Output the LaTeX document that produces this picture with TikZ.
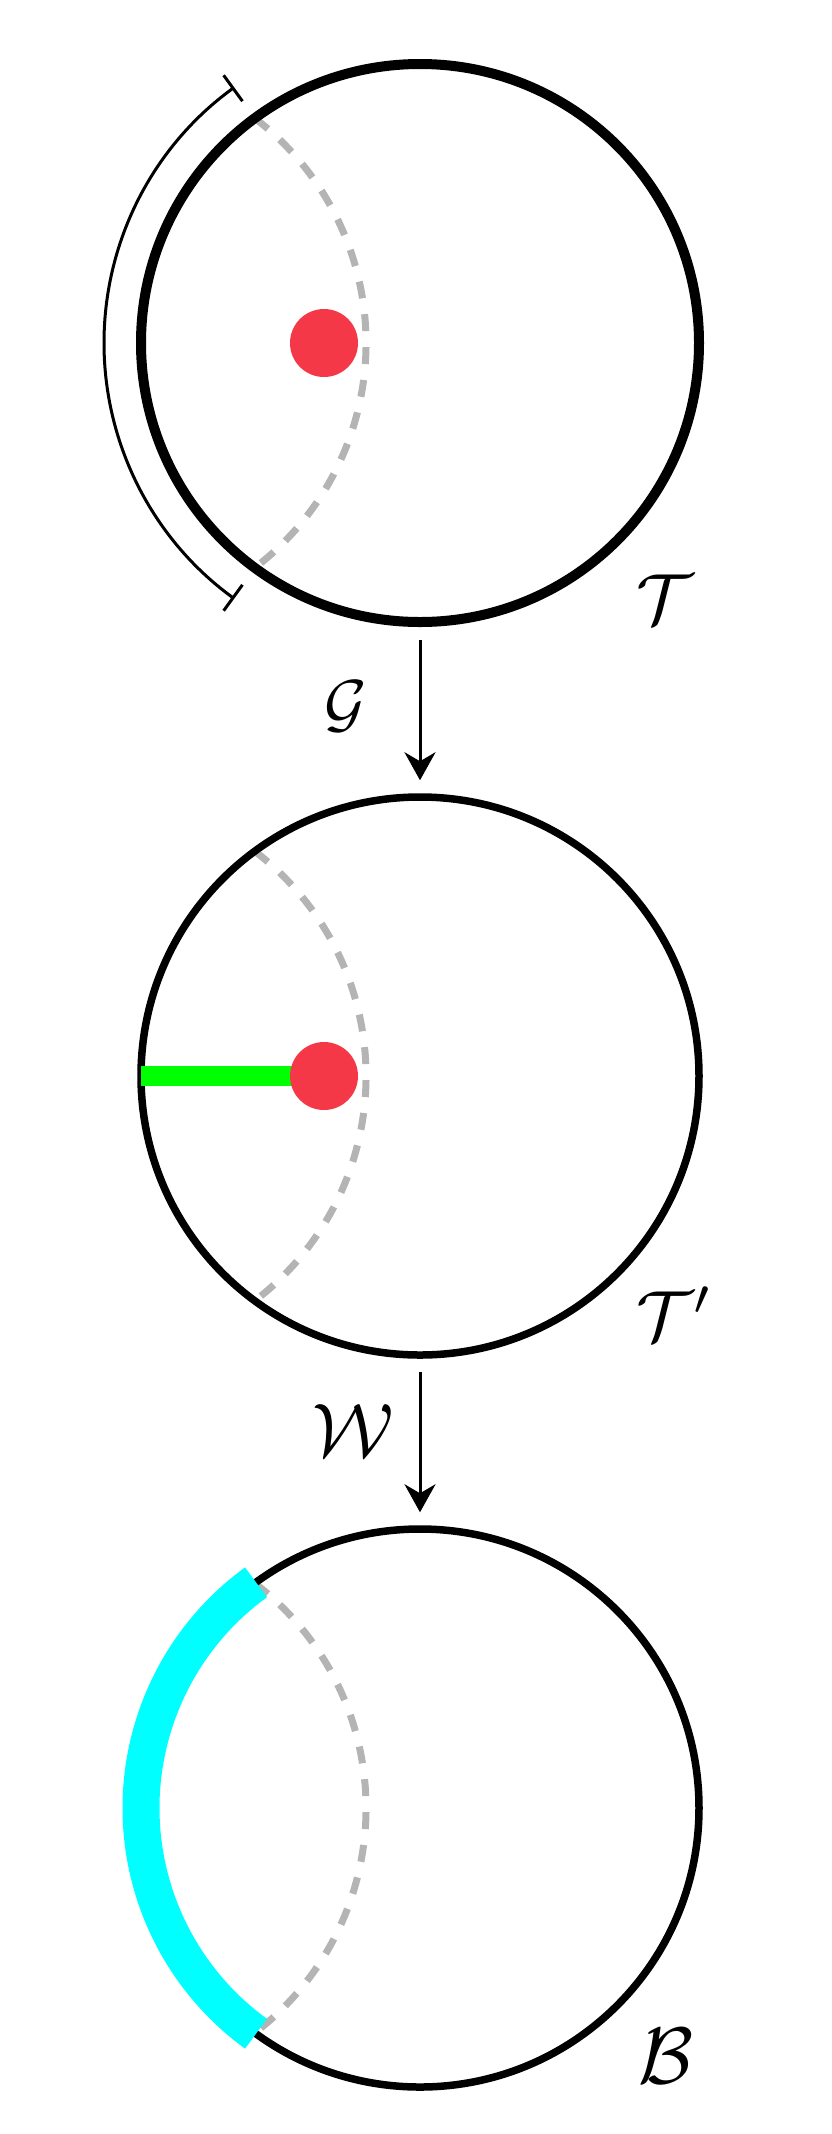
\documentclass[tikz,border=0pt]{standalone}
\usetikzlibrary{arrows.meta}
\definecolor{dotred}{RGB}{244,56,72}
\definecolor{dashgray}{RGB}{180,180,180}
\definecolor{cyanband}{RGB}{0,255,255}
\definecolor{greenbar}{RGB}{0,255,0}
\tikzset{
  bigcircle/.style={circle, draw=black, minimum size=558pt, inner sep=0pt},
  geod/.style={draw=dashgray, line width=7pt, dash pattern=on 17pt off 16pt},
  reddot/.style={circle, fill=dotred, minimum size=68pt, inner sep=0pt},
  mapping/.style={draw=black, line width=3pt, -{Stealth[length=28pt, width=31pt, inset=9pt]}, shorten <=13pt, shorten >=13pt},
  lbl/.style={inner sep=0pt, outer sep=0pt, anchor=base west}
}
\begin{document}
\begin{tikzpicture}[x=1pt, y=-1pt]
\useasboundingbox (0,0) rectangle (831,2134);
\coordinate (c1) at (420,343);
\coordinate (c2) at (420,1076);
\coordinate (c3) at (420,1808);
% dashed arcs
\foreach \c in {c1,c2,c3}{
  \draw[geod] ([shift={(-165.3pt,224.8pt)}]\c) arc[start angle=52.7, end angle=-52.7, radius=282.6pt];
}
% circles
\node[bigcircle, line width=10pt] (t1) at (c1) {};
\node[bigcircle, line width=7.5pt] (t2) at (c2) {};
\node[bigcircle, line width=7.5pt] (t3) at (c3) {};
% bracket
\draw[line width=3pt, {Bar[width=32pt]}-{Bar[width=32pt]}] ([shift={(126:316pt)}]c1) arc[start angle=126, end angle=234, radius=316pt];
% red dot 1
\node[reddot] (d1) at ([xshift=-96pt]c1) {};
% green bar and red dot 2
\coordinate (p2) at ([xshift=-96pt]c2);
\coordinate (g2) at ([xshift=-279pt]c2);
\draw[greenbar, line width=20pt] (g2) -- (p2);
\node[reddot] (d2) at (p2) {};
% cyan band
\draw[cyanband, line width=37pt] ([shift={(126:279pt)}]c3) arc[start angle=126, end angle=234, radius=279pt];
% arrows
\draw[mapping] (t1.south) -- (t2.north);
\draw[mapping] (t2.south) -- (t3.north);
% labels
\node[lbl] (lT) at (636.3,623.6) {\scalebox{7.1}{$\mathcal{T}$}};
\node[lbl] (lTp) at (636.5,1340.6) {\scalebox{7.1}{$\mathcal{T}'$}};
\node[lbl] (lG) at (324.8,725.4) {\scalebox{6.5}{$\mathcal{G}$}};
\node[lbl] (lW) at (312.5,1456.2) {\scalebox{7.6}{$\mathcal{W}$}};
\node[lbl] (lB) at (638,2083.5) {\scalebox{8}{$\mathcal{B}$}};
\end{tikzpicture}
\end{document}
